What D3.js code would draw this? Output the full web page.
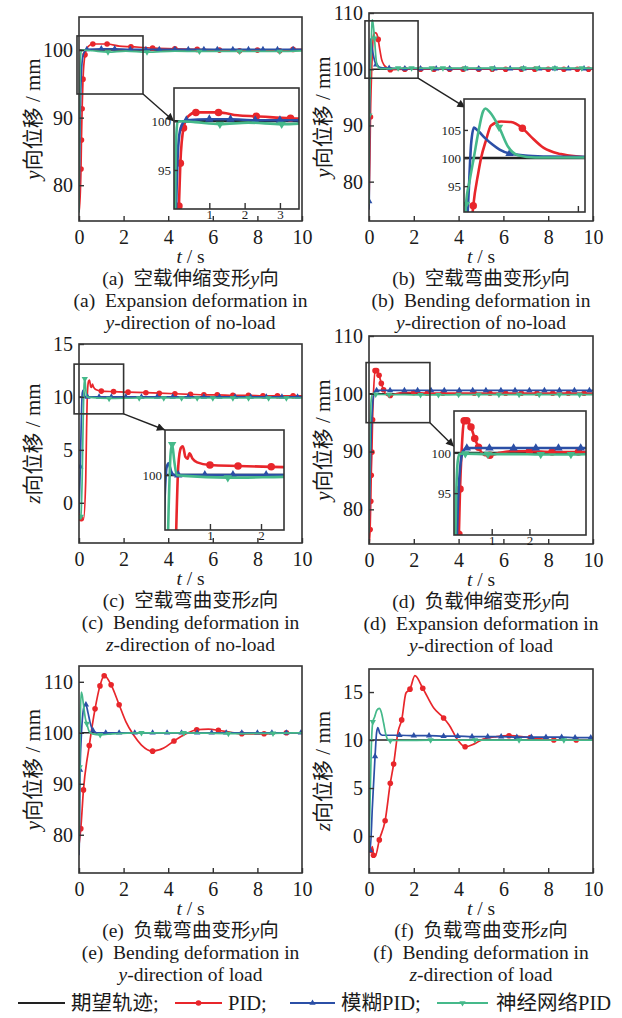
<!DOCTYPE html>
<html>
<head>
<meta charset="utf-8">
<script src="https://cdn.jsdelivr.net/npm/d3@7"></script>
<style>
body { margin: 0; background: #fff; }
svg text { font-family: "Liberation Serif", "Times New Roman", "Noto Sans CJK SC", serif; fill: #1a1a1a; }
</style>
</head>
<body>
<svg id="chart" width="622" height="1018"></svg>
<script>
// shared time ticks
var xTicks = [0, 2, 4, 6, 8, 10];

// series points: [t (s), displacement, marker drawn?]
// (a) expansion, y, no load
var refA = [[0, 100], [10, 100]];
var pidA = [[0, 76], [0.06, 79], [0.09, 82.4, 1], [0.11, 86.7, 1], [0.14, 91.3, 1], [0.18, 95.7, 1], [0.27, 99.3, 1], [0.4, 100.5], [0.62, 100.9, 1], [1.26, 100.9, 1], [1.8, 100.6], [2.33, 100.5, 1], [3.3, 100.3, 1], [4.3, 100.2, 1], [5.3, 100.1, 1], [6.3, 100.0, 1], [7.2, 99.9, 1], [8.0, 100.0, 1], [9.0, 99.9, 1], [9.6, 100.1, 1], [10, 100.1]];
var fuzzyA = [[0, 76], [0.03, 84], [0.06, 91], [0.1, 96], [0.15, 98.6], [0.22, 99.6], [0.35, 100.1, 1], [1.0, 100.2, 1], [1.6, 100.2, 1], [2.3, 100.1, 1], [3.0, 100.1, 1], [3.6, 100.1, 1], [4.3, 100.1, 1], [4.9, 100.1, 1], [5.6, 100.1, 1], [6.2, 100.1, 1], [6.9, 100.1, 1], [7.6, 100.1, 1], [8.25, 100.1, 1], [8.9, 100.1, 1], [9.6, 100.1, 1], [10, 100.1]];
var nnA = [[0, 76], [0.02, 86], [0.04, 94], [0.07, 98.8], [0.1, 99.9], [0.2, 100], [0.6, 99.9], [1.3, 99.7, 1], [2.1, 99.85], [3.05, 99.7, 1], [4.3, 99.85], [5.4, 99.8, 1], [7.2, 99.8, 1], [9.0, 99.8, 1], [10, 99.9]];

// (b) bending, y, no load
var refB = [[0, 100], [10, 100]];
var pidB = [[0, 76], [0.04, 84], [0.065, 91.5, 1], [0.1, 97.3], [0.12, 100], [0.155, 103.2], [0.19, 105.8], [0.26, 106.5], [0.33, 106.4], [0.41, 105.3, 1], [0.47, 103.8], [0.56, 101.8], [0.68, 100.7], [0.82, 100.2], [0.95, 99.9, 1], [1.6, 100, 1], [2.3, 100, 1], [2.9, 100, 1], [3.6, 100, 1], [4.2, 100, 1], [4.9, 100, 1], [5.5, 100, 1], [6.1, 100, 1], [6.8, 100, 1], [7.4, 100, 1], [8.0, 100, 1], [8.7, 100, 1], [9.3, 100, 1], [9.8, 100, 1], [10, 100]];
var fuzzyB = [[0, 75], [0.012, 76.5, 1], [0.02, 86], [0.035, 95], [0.05, 102.5], [0.07, 105.4], [0.1, 104.8], [0.15, 103.5], [0.2, 102.4], [0.25, 101.5], [0.32, 100.8, 1], [0.45, 100.4], [0.6, 100.25], [0.9, 100.2, 1], [1.6, 100.1, 1], [2.3, 100.1, 1], [3.0, 100.1, 1], [3.6, 100.1, 1], [4.3, 100.1, 1], [4.9, 100.1, 1], [5.6, 100.1, 1], [6.3, 100.1, 1], [6.9, 100.1, 1], [7.6, 100.1, 1], [8.3, 100.1, 1], [8.9, 100.1, 1], [9.6, 100.1, 1], [10, 100.1]];
var nnB = [[0, 76], [0.014, 91.8, 1], [0.04, 96], [0.07, 100.2], [0.1, 104.5], [0.134, 108.3], [0.15, 108.8], [0.18, 108.2], [0.246, 105.5, 1], [0.31, 102.0], [0.38, 100.5], [0.5, 100.1], [0.9, 100.1], [1.3, 100.2, 1], [1.9, 100.2, 1], [2.8, 100.2, 1], [3.3, 100.2, 1], [4.3, 100.2, 1], [5.5, 100.2, 1], [6.9, 100.2, 1], [7.5, 100.2, 1], [8.3, 100.2, 1], [9.5, 100.2, 1], [10, 100.2]];

// (c) bending, z, no load
var refC = [[0, 10], [10, 10]];
var pidC = [[0, -1.0], [0.09, -1.5, 1], [0.2, -1.6], [0.3, 2], [0.34, 7], [0.38, 10.5], [0.43, 11.5], [0.47, 11.6], [0.52, 11.0], [0.56, 10.9], [0.6, 11.2], [0.66, 10.9], [0.75, 10.7], [1.0, 10.55, 1], [1.55, 10.5, 1], [2.2, 10.45, 1], [3.0, 10.4, 1], [3.6, 10.35, 1], [4.3, 10.3, 1], [5.0, 10.25, 1], [5.6, 10.2, 1], [6.2, 10.2, 1], [6.9, 10.15, 1], [7.6, 10.15, 1], [8.25, 10.1, 1], [8.9, 10.1, 1], [9.6, 10.1, 1], [10, 10.1]];
var fuzzyC = [[0, -1], [0.06, 3.4, 1], [0.11, 8.5], [0.15, 10.4], [0.19, 10.65], [0.24, 10.2], [0.3, 10.0], [0.38, 10.0, 1], [0.9, 10, 1], [1.45, 10, 1], [2.1, 10, 1], [2.8, 10, 1], [3.5, 10, 1], [4.2, 10, 1], [4.9, 10, 1], [5.6, 10, 1], [6.3, 10, 1], [7.0, 10, 1], [7.7, 10, 1], [8.4, 10, 1], [9.1, 10, 1], [9.8, 10, 1], [10, 10]];
var nnC = [[0, -1.5], [0.08, -1.3, 1], [0.14, 2], [0.19, 8], [0.23, 11.2], [0.26, 11.7, 1], [0.3, 10.8], [0.35, 10.0], [0.5, 9.95], [1.35, 9.85, 1], [2.7, 9.9, 1], [3.8, 9.9, 1], [4.6, 9.9, 1], [5.3, 9.9, 1], [6.0, 9.9, 1], [6.9, 9.9, 1], [7.6, 9.9, 1], [8.5, 9.9, 1], [9.3, 9.9, 1], [10, 9.9]];

// (d) expansion, y, load
var refD = [[0, 100], [10, 100]];
var pidD = [[0, 74], [0.05, 76.5, 1], [0.08, 81.4, 1], [0.1, 85.9, 1], [0.13, 89.9, 1], [0.16, 95.5, 1], [0.2, 100], [0.27, 104.0, 1], [0.34, 104.0, 1], [0.39, 103.7], [0.45, 103.2, 1], [0.55, 101.8, 1], [0.65, 100.7, 1], [0.82, 99.7], [0.95, 99.7, 1], [1.2, 100], [1.5, 100.2], [2.0, 100.2, 1], [2.6, 100.1, 1], [3.3, 100.1, 1], [4.0, 100.1, 1], [4.7, 100.1, 1], [5.4, 100.1, 1], [6.1, 100.1, 1], [6.8, 100.1, 1], [7.5, 100.1, 1], [8.2, 100.1, 1], [8.9, 100.1, 1], [9.6, 100.1, 1], [10, 100.1]];
var fuzzyD = [[0, 76], [0.05, 85], [0.1, 93], [0.16, 98], [0.24, 100.2], [0.34, 100.6, 1], [0.94, 100.6, 1], [1.58, 100.6, 1], [2.17, 100.6, 1], [2.77, 100.6, 1], [3.36, 100.6, 1], [4.03, 100.6, 1], [4.63, 100.6, 1], [5.22, 100.6, 1], [5.89, 100.6, 1], [6.52, 100.6, 1], [7.16, 100.6, 1], [7.83, 100.6, 1], [8.5, 100.6, 1], [9.17, 100.6, 1], [9.84, 100.6, 1], [10, 100.6]];
var nnD = [[0, 76], [0.03, 88], [0.06, 95], [0.1, 99], [0.15, 99.9], [0.3, 99.9, 1], [0.9, 99.85, 1], [1.6, 99.85], [2.3, 99.8, 1], [3.1, 99.8, 1], [4.0, 99.85, 1], [4.9, 99.85, 1], [5.8, 99.85, 1], [6.7, 99.85, 1], [7.6, 99.85, 1], [8.5, 99.85, 1], [9.4, 99.85, 1], [10, 99.85]];

// (e) bending, y, load
var refE = [[0, 100], [10, 100]];
var pidE = [[0, 78], [0.08, 81.2, 1], [0.2, 88.8, 1], [0.46, 97.5, 1], [0.72, 104.7, 1], [0.94, 109.2, 1], [1.13, 111.2, 1], [1.44, 109.4, 1], [1.8, 105.5, 1], [2.1, 102.2], [2.44, 99.6], [2.8, 97.6], [3.3, 96.4, 1], [3.8, 97.0], [4.26, 98.4, 1], [4.8, 99.8], [5.28, 100.6, 1], [5.8, 100.7], [6.25, 100.5, 1], [6.8, 100.1], [7.3, 99.8, 1], [8.3, 99.8, 1], [9.0, 100], [9.3, 100, 1], [10, 100]];
var fuzzyE = [[0, 76], [0.02, 80], [0.05, 92.7, 1], [0.1, 99], [0.18, 104], [0.25, 105.4], [0.31, 105.5, 1], [0.4, 104], [0.5, 102], [0.63, 100.4, 1], [0.8, 100], [1.2, 100, 1], [1.8, 100, 1], [2.5, 100, 1], [3.3, 100, 1], [3.95, 100, 1], [4.6, 100, 1], [5.3, 100, 1], [5.95, 100, 1], [6.6, 100, 1], [7.3, 100, 1], [8.0, 100, 1], [8.65, 100, 1], [9.3, 100, 1], [9.95, 100, 1], [10, 100]];
var nnE = [[0, 77], [0.03, 93.3, 1], [0.06, 103], [0.1, 108], [0.14, 107.5], [0.2, 105.5], [0.3, 102.5], [0.35, 101.8, 1], [0.45, 100.3], [0.6, 99.8], [0.95, 99.6, 1], [1.5, 99.8], [2.8, 100, 1], [4.7, 100, 1], [6.7, 99.85, 1], [8.7, 99.9, 1], [10, 100]];

// (f) bending, z, load
var refF = [[0, 10], [10, 10]];
var pidF = [[0, -1.0], [0.09, -1.5, 1], [0.15, -1.1], [0.2, -2.0, 1], [0.28, -2.1], [0.46, -0.4, 1], [0.72, 1.6, 1], [0.95, 5.5, 1], [1.1, 7.5, 1], [1.3, 10.9], [1.46, 12.1, 1], [1.65, 14.9], [1.83, 15.3, 1], [2.05, 16.7], [2.4, 15.4, 1], [2.9, 13.3], [3.33, 12.3, 1], [3.57, 11.6], [3.96, 10], [4.29, 9.3, 1], [4.7, 9.6], [5.1, 10.1], [5.7, 10.35], [6.25, 10.45, 1], [7.2, 10.25, 1], [8.25, 10.0, 1], [9.25, 10.0, 1], [10, 10]];
var fuzzyF = [[0, -1.5], [0.05, -1.5, 1], [0.15, 3], [0.27, 8.3, 1], [0.34, 10.8], [0.4, 11.3], [0.48, 10.7], [0.6, 10.5], [1.36, 10.5, 1], [2.0, 10.45, 1], [2.68, 10.45, 1], [3.33, 10.4, 1], [3.96, 10.4, 1], [4.6, 10.35, 1], [5.3, 10.35, 1], [5.9, 10.35, 1], [6.6, 10.3, 1], [7.25, 10.3, 1], [7.9, 10.3, 1], [8.6, 10.3, 1], [9.2, 10.25, 1], [9.9, 10.25, 1], [10, 10.25]];
var nnF = [[0, -1.5], [0.05, 4], [0.1, 9], [0.17, 11.9, 1], [0.25, 12.4], [0.35, 13.1], [0.46, 13.3], [0.55, 12.9], [0.65, 11.8], [0.75, 10.6], [0.85, 10.0], [0.95, 9.95, 1], [2.75, 10, 1], [4.73, 10, 1], [6.7, 10, 1], [8.7, 10, 1], [10, 10]];

// y tick values
var yTicksA = [80, 90, 100];
var yTicksB = [80, 90, 100, 110];
var yTicksC = [0, 5, 10, 15];
var yTicksD = [80, 90, 100, 110];
var yTicksE = [80, 90, 100, 110];
var yTicksF = [0, 5, 10, 15];

// texts ("|" toggles italic)
var yLabels = ["|y|向位移 / mm", "|y|向位移 / mm", "|z|向位移 / mm", "|y|向位移 / mm", "|y|向位移 / mm", "|z|向位移 / mm"];
var cnCaptions = ["(a)  空载伸缩变形|y|向", "(b)  空载弯曲变形|y|向", "(c)  空载弯曲变形|z|向", "(d)  负载伸缩变形|y|向", "(e)  负载弯曲变形|y|向", "(f)  负载弯曲变形|z|向"];
var enCaptions = ["(a)  Expansion deformation in", "(b)  Bending deformation in", "(c)  Bending deformation in", "(d)  Expansion deformation in", "(e)  Bending deformation in", "(f)  Bending deformation in"];
var enCaptions2 = ["|y|-direction of no-load", "|y|-direction of no-load", "|z|-direction of no-load", "|y|-direction of load", "|y|-direction of load", "|z|-direction of load"];
var legendNames = ["期望轨迹;", "PID;", "模糊PID;", "神经网络PID"];
var seriesKeys = ["ref", "pid", "fuzzy", "nn"];

var colors = { ref: "#222222", pid: "#e8262b", fuzzy: "#2b4fa6", nn: "#45b98a" };

// layout of each plot and its zoom inset
var panels = [
	{ frame: [79, 17, 302, 221], yDomain: [74.7, 104.9], yTicks: yTicksA, series: [refA, pidA, fuzzyA, nnA],
	  inset: { rect: [174, 88, 299, 209], xDomain: [0, 3.54], yDomain: [91, 103.4], xTicks: [1, 2, 3], xLab: true, yTicks: [95, 100], yLab: ["95", "100"],
	           box: [-0.09, 2.87, 93.5, 102.1], arrowTo: [0, 100] } },
	{ frame: [369, 13, 593, 221], yDomain: [73, 110], yTicks: yTicksB, series: [refB, pidB, fuzzyB, nnB],
	  inset: { rect: [464, 99, 585, 212], xDomain: [0, 0.85], yDomain: [90.4, 110.5], xTicks: [0.8], xLab: false, yTicks: [95, 100, 105], yLab: ["95", "100", "105"],
	           box: [-0.18, 2.19, 98.4, 108.6], arrowTo: [0.01, 109] } },
	{ frame: [79, 344, 302, 543], yDomain: [-3.8, 15], yTicks: yTicksC, series: [refC, pidC, fuzzyC, nnC],
	  inset: { rect: [165, 430, 284, 530], xDomain: [0.12, 2.45], yDomain: [6.94, 12.5], xTicks: [1, 2], xLab: true, yTicks: [10], yLab: ["100"],
	           box: [-0.22, 2.0, 8.4, 13.1], arrowTo: [0.12, 12.5] } },
	{ frame: [369, 336, 593, 544], yDomain: [74, 110], yTicks: yTicksD, series: [refD, pidD, fuzzyD, nnD],
	  inset: { rect: [454, 411, 586, 535], xDomain: [0, 3.5], yDomain: [89.8, 105.2], xTicks: [1, 2], xLab: true, yTicks: [95, 100], yLab: ["95", "100"],
	           box: [-0.13, 2.72, 95.0, 105.4], arrowTo: [0, 100.8] } },
	{ frame: [79, 666, 302, 873], yDomain: [72.5, 113.1], yTicks: yTicksE, series: [refE, pidE, fuzzyE, nnE], inset: null },
	{ frame: [369, 669, 593, 873], yDomain: [-3.85, 17.4], yTicks: yTicksF, series: [refF, pidF, fuzzyF, nnF], inset: null }
];

var svg = d3.select("#chart");
var defs = svg.append("defs");

defs.append("marker")
	.attr("id", "arrowhead")
	.attr("viewBox", "0 0 10 10")
	.attr("refX", 10).attr("refY", 5)
	.attr("markerWidth", 10).attr("markerHeight", 8)
	.attr("markerUnits", "userSpaceOnUse")
	.attr("orient", "auto")
	.append("path").attr("d", "M0,0L10,5L0,10z").attr("fill", "#222");

function richText(sel, str) {
	str.split("|").forEach(function(part, i) {
		if (!part) return;
		sel.append("tspan").text(part).style("font-style", i % 2 ? "italic" : null);
	});
}

function drawSeries(g, list, x, y, lw, ms) {
	var line = d3.line().x(function(d) { return x(d[0]); }).y(function(d) { return y(d[1]); }).curve(d3.curveMonotoneX);
	list.forEach(function(pts, k) {
		var key = seriesKeys[k];
		g.append("path").datum(pts)
			.attr("d", line)
			.attr("fill", "none")
			.attr("stroke", colors[key])
			.attr("stroke-width", key == "ref" ? lw * 0.9 : lw)
			.attr("stroke-linejoin", "round");
		var marked = pts.filter(function(d) { return d[2]; });
		if (key == "pid") {
			g.selectAll(null).data(marked).join("circle")
				.attr("cx", function(d) { return x(d[0]); })
				.attr("cy", function(d) { return y(d[1]); })
				.attr("r", ms * 0.5)
				.attr("fill", colors.pid);
		} else if (key != "ref") {
			var sym = d3.symbol(d3.symbolTriangle, ms * ms * 0.55);
			g.selectAll(null).data(marked).join("path")
				.attr("d", sym)
				.attr("transform", function(d) {
					return "translate(" + x(d[0]) + "," + y(d[1]) + ")" + (key == "nn" ? " rotate(180)" : "");
				})
				.attr("fill", colors[key]);
		}
	});
}

// d3 axes write their own font-size, so restyle afterwards
function styleAxis(gAxis, size) {
	gAxis.attr("font-size", size).attr("color", "#333");
	gAxis.select(".domain").remove();
	gAxis.selectAll("line").attr("stroke-width", 1.4);
}

panels.forEach(function(p, i) {
	var f = p.frame;
	var x = d3.scaleLinear().domain([0, 10]).range([f[0], f[2]]);
	var y = d3.scaleLinear().domain(p.yDomain).range([f[3], f[1]]);
	var g = svg.append("g");

	defs.append("clipPath").attr("id", "clip" + i)
		.append("rect").attr("x", f[0]).attr("y", f[1]).attr("width", f[2] - f[0]).attr("height", f[3] - f[1]);

	drawSeries(g.append("g").attr("clip-path", "url(#clip" + i + ")"), p.series, x, y, 1.7, 5.6);

	g.append("rect")
		.attr("x", f[0]).attr("y", f[1]).attr("width", f[2] - f[0]).attr("height", f[3] - f[1])
		.attr("fill", "none").attr("stroke", "#333").attr("stroke-width", 1.6);

	var gx = g.append("g")
		.attr("transform", "translate(0," + f[3] + ")")
		.call(d3.axisBottom(x).tickValues(xTicks).tickSizeInner(-5).tickSizeOuter(0).tickPadding(9));
	styleAxis(gx, 20);

	var gy = g.append("g")
		.attr("transform", "translate(" + f[0] + ",0)")
		.call(d3.axisLeft(y).tickValues(p.yTicks).tickSizeInner(-5).tickSizeOuter(0).tickPadding(6));
	styleAxis(gy, 20);

	// axis titles and captions
	var cx = (f[0] + f[2]) / 2;
	var yl = g.append("text")
		.attr("transform", "translate(" + (f[0] - 46) + "," + ((f[1] + f[3]) / 2) + ") rotate(-90)")
		.attr("text-anchor", "middle").attr("dy", "0.35em").attr("font-size", 21);
	richText(yl, yLabels[i]);

	var tl = g.append("text").attr("x", cx).attr("y", f[3] + 42).attr("text-anchor", "middle").attr("font-size", 19.5);
	richText(tl, "|t| / s");

	[[cnCaptions[i], 64], [enCaptions[i], 86], [enCaptions2[i], 108]].forEach(function(c) {
		var t = g.append("text").attr("x", cx).attr("y", f[3] + c[1])
			.attr("text-anchor", "middle").attr("font-size", 19.5).style("white-space", "pre");
		richText(t, c[0]);
	});

	if (!p.inset) return;
	var ins = p.inset, r = ins.rect;
	var xi = d3.scaleLinear().domain(ins.xDomain).range([r[0], r[2]]);
	var yi = d3.scaleLinear().domain(ins.yDomain).range([r[3], r[1]]);

	// zoom window and arrow
	g.append("rect")
		.attr("x", x(ins.box[0])).attr("y", y(ins.box[3]))
		.attr("width", x(ins.box[1]) - x(ins.box[0])).attr("height", y(ins.box[2]) - y(ins.box[3]))
		.attr("fill", "none").attr("stroke", "#333").attr("stroke-width", 1.6);
	g.append("line")
		.attr("x1", x(ins.box[1])).attr("y1", y(ins.box[2]))
		.attr("x2", xi(ins.arrowTo[0])).attr("y2", yi(ins.arrowTo[1]))
		.attr("stroke", "#222").attr("stroke-width", 1.4)
		.attr("marker-end", "url(#arrowhead)");

	var gi = g.append("g");
	gi.append("rect")
		.attr("x", r[0]).attr("y", r[1]).attr("width", r[2] - r[0]).attr("height", r[3] - r[1])
		.attr("fill", "#fff");
	defs.append("clipPath").attr("id", "iclip" + i)
		.append("rect").attr("x", r[0]).attr("y", r[1]).attr("width", r[2] - r[0]).attr("height", r[3] - r[1]);
	drawSeries(gi.append("g").attr("clip-path", "url(#iclip" + i + ")"), p.series, xi, yi, 2.6, 7.5);
	gi.append("rect")
		.attr("x", r[0]).attr("y", r[1]).attr("width", r[2] - r[0]).attr("height", r[3] - r[1])
		.attr("fill", "none").attr("stroke", "#333").attr("stroke-width", 1.6);

	var gix = gi.append("g")
		.attr("transform", "translate(0," + r[3] + ")")
		.call(d3.axisBottom(xi).tickValues(ins.xTicks).tickSizeInner(-6).tickSizeOuter(0).tickPadding(1)
			.tickFormat(ins.xLab ? d3.format("d") : function() { return ""; }));
	styleAxis(gix, 13);

	var giy = gi.append("g")
		.attr("transform", "translate(" + r[0] + ",0)")
		.call(d3.axisLeft(yi).tickValues(ins.yTicks).tickSizeInner(-4).tickSizeOuter(0).tickPadding(3)
			.tickFormat(function(d, k) { return ins.yLab[k]; }));
	styleAxis(giy, 13);
});

// legend
var legX = [18, 175, 290, 437];
var legLen = [47, 47, 45, 51];
var legTextX = [71, 228, 341, 496];
var legY = 1003;
var lg = svg.append("g");
seriesKeys.forEach(function(key, k) {
	lg.append("line")
		.attr("x1", legX[k]).attr("x2", legX[k] + legLen[k])
		.attr("y1", legY).attr("y2", legY)
		.attr("stroke", colors[key]).attr("stroke-width", 1.8);
	var mx = legX[k] + legLen[k] / 2;
	if (key == "pid") {
		lg.append("circle").attr("cx", mx).attr("cy", legY).attr("r", 2.8).attr("fill", colors.pid);
	} else if (key != "ref") {
		lg.append("path")
			.attr("d", d3.symbol(d3.symbolTriangle, 17))
			.attr("transform", "translate(" + mx + "," + legY + ")" + (key == "nn" ? " rotate(180)" : ""))
			.attr("fill", colors[key]);
	}
	lg.append("text")
		.attr("x", legTextX[k]).attr("y", legY)
		.attr("dy", "0.35em").attr("font-size", 20.5)
		.text(legendNames[k]);
});
</script>
</body>
</html>
